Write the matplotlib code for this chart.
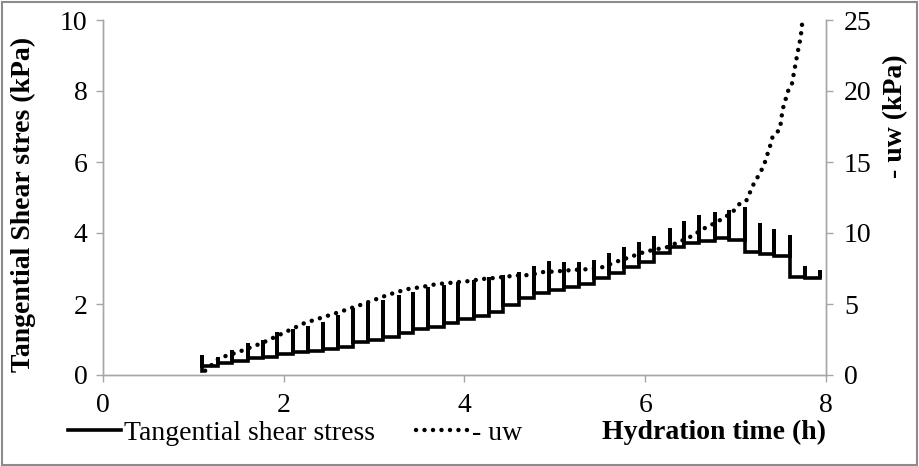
import numpy as np
import matplotlib.pyplot as plt
from matplotlib.patches import Rectangle

plt.rcParams['font.family'] = ['Liberation Serif', 'DejaVu Serif']
plt.rcParams['font.size'] = 20

# tangential shear stress: one load step every ~10 min (time h, peak kPa, relaxed kPa)
step_time = [1.10, 1.27, 1.43, 1.60, 1.77, 1.93, 2.10, 2.27, 2.43, 2.60, 2.77,
             2.93, 3.10, 3.27, 3.43, 3.60, 3.77, 3.93, 4.10, 4.27, 4.43, 4.60,
             4.77, 4.93, 5.10, 5.27, 5.43, 5.60, 5.77, 5.93, 6.10, 6.27, 6.43,
             6.60, 6.77, 6.93, 7.10, 7.27, 7.43, 7.60, 7.77, 7.93]
step_peak = [0.55, 0.50, 0.70, 0.90, 1.00, 1.20, 1.30, 1.38, 1.50, 1.69, 1.89,
             2.03, 2.11, 2.25, 2.34, 2.48, 2.54, 2.62, 2.68, 2.76, 2.82, 2.90,
             3.07, 3.21, 3.18, 3.18, 3.24, 3.43, 3.60, 3.75, 3.92, 4.14, 4.33,
             4.50, 4.60, 4.65, 4.73, 4.28, 4.10, 3.94, 3.07, 2.95]
step_base = [0.25, 0.34, 0.40, 0.47, 0.52, 0.59, 0.64, 0.68, 0.74, 0.80, 0.93,
             0.98, 1.07, 1.18, 1.30, 1.35, 1.46, 1.58, 1.66, 1.77, 1.97, 2.17,
             2.30, 2.39, 2.48, 2.56, 2.73, 2.88, 3.04, 3.19, 3.43, 3.60, 3.71,
             3.77, 3.86, 3.80, 3.46, 3.40, 3.36, 2.76, 2.72, 2.80]
start_base = 0.12

# - uw (kPa)
uw_time = [1.13, 1.29, 1.49, 1.76, 2.01, 2.23, 2.60, 2.88, 3.09, 3.23, 3.37,
           3.53, 3.69, 3.86, 4.03, 4.20, 4.36, 4.56, 4.72, 4.87, 5.03, 5.20,
           5.39, 5.53, 5.69, 5.83, 5.96, 6.08, 6.24, 6.49, 6.66, 6.77, 6.88,
           6.97, 7.05, 7.12, 7.21, 7.27, 7.32, 7.38, 7.41, 7.49, 7.52, 7.58,
           7.62, 7.64, 7.68, 7.72, 7.74]
uw_val = [0.3, 1.2, 1.6, 2.25, 3.0, 3.66, 4.4, 5.0, 5.5, 5.8, 6.05,
          6.2, 6.4, 6.5, 6.6, 6.76, 6.85, 7.0, 7.04, 7.25, 7.3, 7.4,
          7.46, 7.6, 8.0, 8.3, 8.6, 8.8, 9.0, 9.7, 10.35, 10.7, 11.1,
          11.5, 12.1, 12.3, 13.6, 14.2, 14.9, 16.1, 16.8, 17.3, 18.7, 20.0,
          20.4, 21.1, 22.5, 23.8, 25.0]

# build the saw-tooth line from the step lists
xs, ys = [], []
prev = start_base
for t, p, b in zip(step_time, step_peak, step_base):
    xs += [t, t, t]
    ys += [prev, p, b]
    prev = b

fig = plt.figure(figsize=(9.2, 4.66), dpi=100)
ax = fig.add_axes([103 / 920, 91 / 466, 723 / 920, 355 / 466])
ax2 = ax.twinx()

l1, = ax.plot(xs, ys, color='black', lw=2.6, solid_joinstyle='miter',
              label='Tangential shear stress')
l2, = ax2.plot(uw_time, uw_val, color='black', lw=3.2,
               linestyle=(0, (0.01, 1.9)), dash_capstyle='round', label='- uw')

ax.set_xlim(0, 8)
ax.set_ylim(0, 10)
ax2.set_ylim(0, 25)
ax.set_xticks([0, 2, 4, 6, 8])
ax.set_yticks([0, 2, 4, 6, 8, 10])
ax2.set_yticks([0, 5, 10, 15, 20, 25])

grey = '#a6a6a6'
for a in (ax, ax2):
    a.spines['top'].set_visible(False)
    for s in ('left', 'right', 'bottom'):
        a.spines[s].set_color(grey)
        a.spines[s].set_linewidth(1.0)
    a.tick_params(colors=grey, labelcolor='black', length=5, width=1.0,
                  labelsize=20)
ax.tick_params(axis='y', pad=6)
ax.tick_params(axis='x', pad=8)
ax2.tick_params(axis='y', pad=8)

ax.set_ylabel('Tangential Shear stres (kPa)', fontweight='bold', fontsize=20)
ax.yaxis.set_label_coords(-0.092, 0.48)
ax2.set_ylabel('- uw (kPa)', fontweight='bold', fontsize=20)
ax2.yaxis.set_label_coords(1.079, 0.73)
ax.set_xlabel('Hydration time (h)', fontweight='bold', fontsize=20, loc='right')
ax.xaxis.set_label_coords(1.0, -0.163)
ax.xaxis.label.set_verticalalignment('center')

fig.legend(handles=[l1, l2], loc='center left',
           bbox_to_anchor=(68 / 920, 33 / 466), ncol=2, frameon=False,
           borderpad=0, borderaxespad=0, handlelength=1.9,
           handletextpad=0.1, columnspacing=1.5, fontsize=20)

fig.patches.append(Rectangle((0.002, 0.003), 0.995, 0.993, transform=fig.transFigure,
                             fill=False, edgecolor='#8c8c8c', lw=1.5))

fig.savefig('out.png', dpi=100)
